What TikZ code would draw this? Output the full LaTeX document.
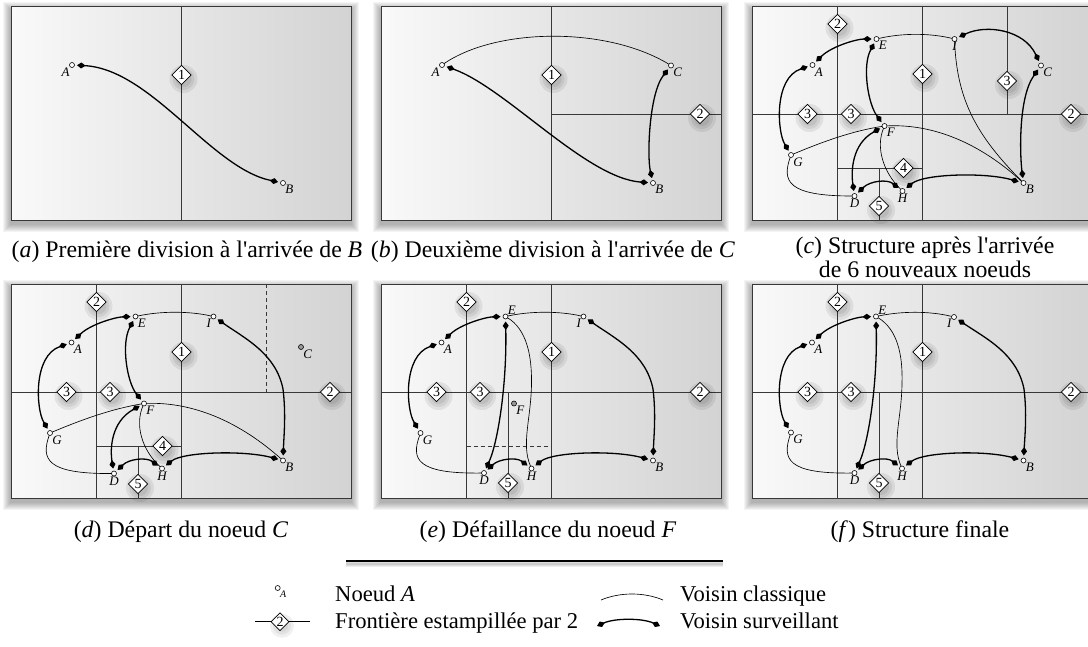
\documentclass[tikz,border=0pt]{standalone}
\usepackage{fontspec}
\setmainfont{Liberation Serif}
\usetikzlibrary{arrows.meta,shapes.geometric}
\definecolor{bgL}{HTML}{F9F9F9}
\definecolor{bgR}{HTML}{D3D3D3}
\definecolor{gridc}{HTML}{383838}
\definecolor{nodegray}{HTML}{9A9A9A}
\tikzset{
  pnode/.style={circle, draw, fill=white, minimum size=5pt, inner sep=0pt, outer sep=0pt, line width=0.6pt},
  gnode/.style={pnode, fill=nodegray},
  lab/.style={font=\fontsize{13}{13}\selectfont\itshape, inner sep=0.5pt, label distance=0pt},
  stamp/.style={diamond, draw, fill=white, line width=0.6pt, minimum size=19.5pt, inner sep=0pt, font=\fontsize{14}{14}\selectfont},
  frontier/.style={gridc, line width=0.9pt},
  frontdash/.style={gridc, line width=0.9pt, dash pattern=on 4pt off 3pt},
  classic/.style={line width=0.65pt},
  surv/.style={line width=1.3pt, {Diamond[length=8.5pt,width=6pt]}-{Diamond[length=8.5pt,width=6pt]}, shorten <=2.5pt, shorten >=2.5pt},
  legsurv/.style={line width=1.3pt, {Diamond[length=8.5pt,width=6pt]}-{Diamond[length=8.5pt,width=6pt]}},
  captxt/.style={font=\fontsize{23.8}{23.8}\selectfont, inner sep=0pt, anchor=base},
  legtxt/.style={font=\fontsize{22.6}{22.6}\selectfont, inner sep=0pt, anchor=base west},
}
\newcommand\panelbg{%
  \foreach \i in {1,...,8} {\fill[black,opacity=0.045] ({-\i},{-\i+4}) rectangle ({340+\i},{214+\i+4});}
  \shade[left color=bgL,right color=bgR] (0,0) rectangle (340,214);}
\newcommand\panelborder{\draw[gridc,line width=1pt] (0,0) rectangle (340,214);}
\newcommand\stampat[3]{%
  \foreach \r in {14,11,8} {\fill[black,opacity=0.07] #2 ++(2,4) circle (\r pt);}
  \node[stamp] (#1) at #2 {#3};}
\newcommand\pn[5][pnode]{\node[#1,label={[lab]#5:#4}] (#2) at #3 {};}

\begin{document}
\begin{tikzpicture}[x=1pt,y=-1pt]
\useasboundingbox (0,0) rectangle (1088,646);

% ---------------- (a)
\begin{scope}[shift={(11,6)}]
\panelbg
\draw[frontier] (170.5,0) -- (170.5,214);
\stampat{a1}{(170.5,69)}{1}
\pn{aA}{(61,59)}{A}{below left}
\pn{aB}{(272,177)}{B}{below right}
\draw[surv] (aA) .. controls (140,63) and (200,162) .. (aB);
\panelborder
\end{scope}

% ---------------- (b)
\begin{scope}[shift={(381,6)}]
\panelbg
\draw[frontier] (170.5,0) -- (170.5,214) (170.5,108) -- (340,108);
\stampat{b1}{(170.5,69)}{1}
\stampat{b2}{(319,108)}{2}
\pn{bA}{(61,59)}{A}{below left}
\pn{bC}{(290,59.5)}{C}{below right}
\pn{bB}{(272,177)}{B}{below right}
\draw[classic] (bA) .. controls (115,22) and (225,20) .. (bC);
\draw[surv] (bA) .. controls (125,82) and (205,172) .. (bB);
\draw[surv] (bC) .. controls (268,88) and (266,150) .. (bB);
\panelborder
\end{scope}

% ---------------- (c)
\begin{scope}[shift={(752,6)}]
\panelbg
\draw[frontier] (85.5,0) -- (85.5,214) (170.5,0) -- (170.5,214) (255,0) -- (255,108)
  (0,108) -- (340,108) (85.5,162) -- (170.5,162) (127,162) -- (127,214);
\stampat{c2a}{(85.5,18)}{2}
\stampat{c1}{(170.5,68)}{1}
\stampat{c3r}{(255,75)}{3}
\stampat{c2b}{(319,108)}{2}
\stampat{c3a}{(55.5,108)}{3}
\stampat{c3b}{(99,108)}{3}
\stampat{c4}{(151.5,162)}{4}
\stampat{c5}{(127,200)}{5}
\pn{cA}{(60.5,59)}{A}{below right}
\pn{cE}{(124.5,33)}{E}{below right}
\pn{cI}{(202.5,33)}{I}{below}
\pn{cC}{(289,59.5)}{C}{below right}
\pn{cF}{(132.5,120)}{F}{below right}
\pn{cG}{(39,149)}{G}{below right}
\pn{cD}{(102.5,190)}{D}{below}
\pn{cH}{(150.5,185)}{H}{below}
\pn{cB}{(271.5,177)}{B}{below right}
\draw[classic] (cE) .. controls (150,27) and (178,27) .. (cI);
\draw[classic] (cI) .. controls (205,95) and (225,130) .. (cB);
\draw[classic] (cF) .. controls (175,118) and (222,132) .. (cB);
\draw[classic] (cG) .. controls (70,136) and (100,125) .. (cF);
\draw[classic] (cG) .. controls (30,175) and (35,190) .. (cD);
\draw[classic] (cF) .. controls (124,140) and (130,165) .. (cH);
\draw[surv] (cA) .. controls (80,40) and (105,33) .. (cE);
\draw[surv] (cA) .. controls (22,72) and (25,125) .. (cG);
\draw[surv] (cE) .. controls (110,60) and (116,98) .. (cF);
\draw[surv] (cF) .. controls (100,138) and (99,165) .. (cD);
\draw[surv] (cD) .. controls (118,175) and (135,173) .. (cH);
\draw[surv] (cH) .. controls (172,168) and (232,166) .. (cB);
\draw[surv] (cC) .. controls (266,92) and (268,150) .. (cB);
\draw[surv] (cI) .. controls (235,18) and (272,24) .. (cC);
\panelborder
\end{scope}

% ---------------- (d)
\begin{scope}[shift={(11,284)}]
\panelbg
\draw[frontier] (85.5,0) -- (85.5,214) (170.5,0) -- (170.5,214)
  (0,108) -- (340,108) (85.5,162) -- (170.5,162) (127,162) -- (127,214);
\draw[frontdash] (255,0) -- (255,108);
\stampat{d2a}{(85.5,18)}{2}
\stampat{d1}{(170.5,68)}{1}
\stampat{d2b}{(319,108)}{2}
\stampat{d3a}{(55.5,108)}{3}
\stampat{d3b}{(99,108)}{3}
\stampat{d4}{(151.5,162)}{4}
\stampat{d5}{(127,200)}{5}
\pn{dA}{(60.5,58.5)}{A}{below right}
\pn{dE}{(124.5,32.5)}{E}{below right}
\pn{dI}{(202.5,32.5)}{I}{below left}
\pn[gnode]{dC}{(290,63)}{C}{below right}
\pn{dF}{(133,119.5)}{F}{below right}
\pn{dG}{(39,149)}{G}{below right}
\pn{dD}{(103,189.5)}{D}{below}
\pn{dH}{(151,184.5)}{H}{below}
\pn{dB}{(272,176.5)}{B}{below right}
\draw[classic] (dE) .. controls (150,27) and (178,27) .. (dI);
\draw[classic] (dF) .. controls (175,118) and (222,132) .. (dB);
\draw[classic] (dG) .. controls (70,136) and (100,125) .. (dF);
\draw[classic] (dG) .. controls (30,175) and (35,190) .. (dD);
\draw[classic] (dF) .. controls (124,140) and (130,165) .. (dH);
\draw[surv] (dA) .. controls (80,40) and (105,33) .. (dE);
\draw[surv] (dA) .. controls (22,72) and (25,125) .. (dG);
\draw[surv] (dE) .. controls (110,60) and (116,98) .. (dF);
\draw[surv] (dF) .. controls (100,138) and (99,165) .. (dD);
\draw[surv] (dD) .. controls (118,175) and (135,173) .. (dH);
\draw[surv] (dH) .. controls (172,168) and (232,166) .. (dB);
\draw[surv] (dI) .. controls (235,55) and (265,70) .. (272,105) .. controls (275,130) and (273,150) .. (dB);
\panelborder
\end{scope}

% ---------------- (e)
\begin{scope}[shift={(381,284)}]
\panelbg
\draw[frontier] (85.5,0) -- (85.5,214) (170.5,0) -- (170.5,214)
  (0,108) -- (340,108) (127,108) -- (127,214);
\draw[frontdash] (85.5,162) -- (170.5,162);
\stampat{e2a}{(85.5,18)}{2}
\stampat{e1}{(170.5,68)}{1}
\stampat{e2b}{(319,108)}{2}
\stampat{e3a}{(55.5,108)}{3}
\stampat{e3b}{(99,108)}{3}
\stampat{e5}{(127,199)}{5}
\pn{eA}{(60.5,58.5)}{A}{below right}
\pn{eE}{(124.5,32.5)}{E}{above right}
\pn{eI}{(202.5,32.5)}{I}{below left}
\pn[gnode]{eF}{(133,119.5)}{F}{below right}
\pn{eG}{(39.5,149)}{G}{below right}
\pn{eD}{(103,189)}{D}{below}
\pn{eH}{(150.5,184.5)}{H}{below}
\pn{eB}{(272,176.5)}{B}{below right}
\draw[classic] (eE) .. controls (150,27) and (178,27) .. (eI);
\draw[classic] (eE) .. controls (145,45) and (151,70) .. (150.5,100) .. controls (150,135) and (140,160) .. (eH);
\draw[classic] (eG) .. controls (30,175) and (35,190) .. (eD);
\draw[surv] (eA) .. controls (80,40) and (105,33) .. (eE);
\draw[surv] (eA) .. controls (22,72) and (25,125) .. (eG);
\draw[surv] (eE) .. controls (126,100) and (117,158) .. (eD);
\draw[surv] (eD) .. controls (118,175) and (135,173) .. (eH);
\draw[surv] (eH) .. controls (172,168) and (232,166) .. (eB);
\draw[surv] (eI) .. controls (235,55) and (265,70) .. (272,105) .. controls (275,130) and (273,150) .. (eB);
\panelborder
\end{scope}

% ---------------- (f)
\begin{scope}[shift={(752,284)}]
\panelbg
\draw[frontier] (85.5,0) -- (85.5,214) (170.5,0) -- (170.5,214)
  (0,108) -- (340,108) (127,108) -- (127,214);
\stampat{f2a}{(85.5,18)}{2}
\stampat{f1}{(170.5,68)}{1}
\stampat{f2b}{(319,108)}{2}
\stampat{f3a}{(55.5,108)}{3}
\stampat{f3b}{(99,108)}{3}
\stampat{f5}{(127,199)}{5}
\pn{fA}{(60,58.5)}{A}{below right}
\pn{fE}{(124,32.5)}{E}{above right}
\pn{fI}{(202,33)}{I}{below left}
\pn{fG}{(39,148.5)}{G}{below right}
\pn{fD}{(102.5,189)}{D}{below}
\pn{fH}{(150,184.5)}{H}{below}
\pn{fB}{(271.5,176.5)}{B}{below right}
\draw[classic] (fE) .. controls (150,27) and (178,27) .. (fI);
\draw[classic] (fE) .. controls (145,45) and (151,70) .. (150,100) .. controls (149.5,135) and (139.5,160) .. (fH);
\draw[classic] (fG) .. controls (30,175) and (35,190) .. (fD);
\draw[surv] (fA) .. controls (80,40) and (105,33) .. (fE);
\draw[surv] (fA) .. controls (22,72) and (25,125) .. (fG);
\draw[surv] (fE) .. controls (125.5,100) and (116.5,158) .. (fD);
\draw[surv] (fD) .. controls (118,175) and (135,173) .. (fH);
\draw[surv] (fH) .. controls (172,168) and (232,166) .. (fB);
\draw[surv] (fI) .. controls (235,55) and (265,70) .. (272,105) .. controls (275,130) and (273,150) .. (fB);
\panelborder
\end{scope}

% ---------------- captions
\node[captxt] (capa) at (187,257) {(\textit{a}) Première division à l\textquotesingle arrivée de \textit{B}};
\node[captxt] (capb) at (553,257) {(\textit{b}) Deuxième division à l\textquotesingle arrivée de \textit{C}};
\node[captxt] (capc1) at (925,253) {(\textit{c}) Structure après l\textquotesingle arrivée};
\node[captxt] (capc2) at (925,277) {de 6 nouveaux noeuds};
\node[captxt] (capd) at (181,537) {(\textit{d}) Départ du noeud \textit{C}};
\node[captxt] (cape) at (548,537) {(\textit{e}) Défaillance du noeud \textit{F}};
\node[captxt] (capf) at (920,537) {(\textit{f}) Structure finale};

% ---------------- separator
\coordinate (sep1) at (346,561);
\coordinate (sep2) at (723,561);
\foreach \k in {1,2,3,4} {\draw[black,opacity=0.07,line width=3pt] ([yshift=-\k pt]sep1) -- ([yshift=-\k pt]sep2);}
\draw[line width=2pt] (sep1) -- (sep2);

% ---------------- legend
\node[pnode,label={[font=\fontsize{10}{10}\selectfont\itshape,inner sep=0.5pt]below right:A}] (lgA) at (277.7,588) {};
\node[legtxt] (lgtA) at (335,601.7) {Noeud \textit{A}};
\coordinate (lgb1) at (255,621.7);
\coordinate (lgb2) at (310,621.7);
\draw[frontier,black] (lgb1) -- (lgb2);
\foreach \r in {12,9,6} {\fill[black,opacity=0.06] (280,621.7) ++(2,4) circle (\r pt);}
\node[stamp,minimum size=18pt] (lgd) at (280,621.7) {2};
\node[legtxt] (lgtb) at (335,628) {Frontière estampillée par 2};
\coordinate (lgc1) at (601,600);
\coordinate (lgc2) at (663,600);
\draw[classic] (lgc1) .. controls (620,592) and (644,592) .. (lgc2);
\node[legtxt] (lgtc) at (680,601.7) {Voisin classique};
\coordinate (lgs1) at (597,626);
\coordinate (lgs2) at (660,626);
\draw[legsurv] (lgs1) .. controls (615,618) and (642,618) .. (lgs2);
\node[legtxt] (lgts) at (680,628) {Voisin surveillant};
\end{tikzpicture}
\end{document}
